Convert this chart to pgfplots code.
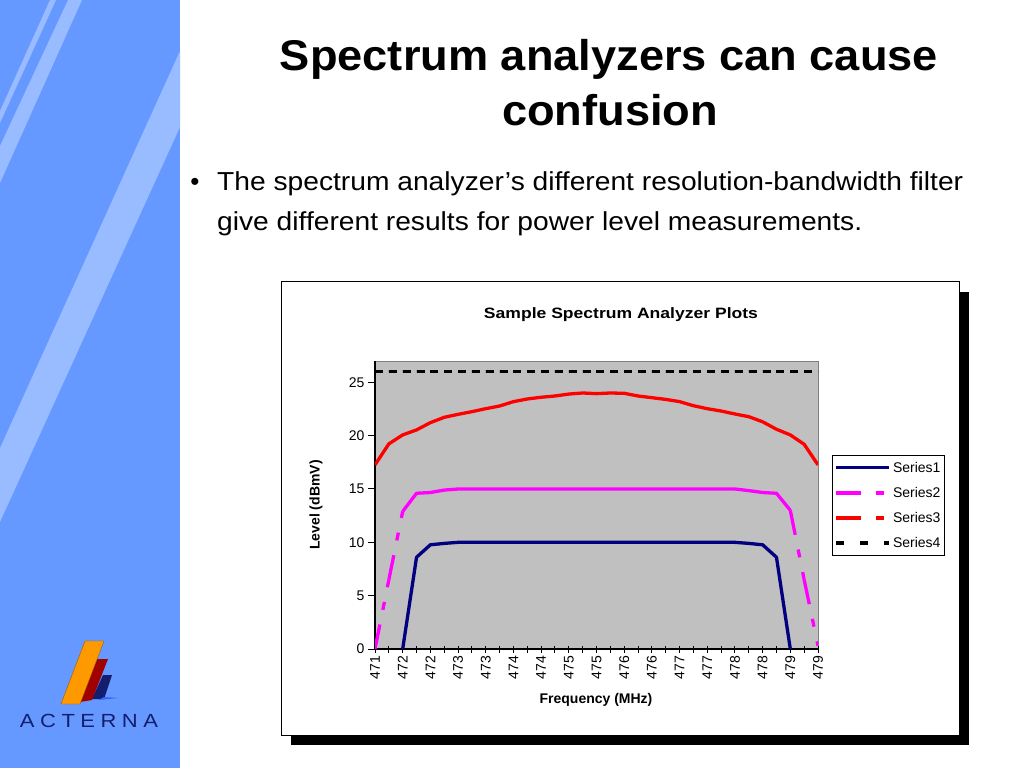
\documentclass[border=0pt]{standalone}
\usepackage{pgfplots}
\pgfplotsset{compat=1.18}
\usepackage{pgfplotstable}
\usepackage{graphicx}
\usepackage{fontspec}
\setmainfont{Liberation Sans}
\newfontfamily\logofont[LetterSpace=25]{Liberation Sans}

\definecolor{panelblue}{RGB}{102,153,255}
\definecolor{stripe}{RGB}{153,187,255}
\definecolor{sone}{RGB}{0,0,128}
\definecolor{stwo}{RGB}{255,0,255}
\definecolor{sthree}{RGB}{255,0,0}
\definecolor{plotgray}{RGB}{192,192,192}
\definecolor{logonavy}{RGB}{20,30,110}
\definecolor{logoorange}{RGB}{255,153,0}
\definecolor{logored}{RGB}{160,0,0}
\definecolor{logoblue}{RGB}{51,102,255}

\newcommand\fs[1]{\fontsize{#1}{#1}\selectfont}

\pgfplotstableread{
i v
2 0
3 8.6
4 9.77
5 9.9
6 10
7 10
8 10
9 10
10 10
11 10
12 10
13 10
14 10
15 10
16 10
17 10
18 10
19 10
20 10
21 10
22 10
23 10
24 10
25 10
26 10
27 9.9
28 9.77
29 8.6
30 0
}\seriesone

\pgfplotstableread{
i v
0 0
1 6.5
2 12.9
3 14.6
4 14.67
5 14.9
6 15
7 15
8 15
9 15
10 15
11 15
12 15
13 15
14 15
15 15
16 15
17 15
18 15
19 15
20 15
21 15
22 15
23 15
24 15
25 15
26 15
27 14.85
28 14.67
29 14.6
30 13.0
31 6.5
32 0.3
}\seriestwo

\pgfplotstableread{
i v
0 17.26
1 19.23
2 20.07
3 20.54
4 21.22
5 21.72
6 22.0
7 22.25
8 22.53
9 22.78
10 23.19
11 23.44
12 23.6
13 23.72
14 23.9
15 24.0
16 23.94
17 24.0
18 23.97
19 23.72
20 23.56
21 23.4
22 23.19
23 22.81
24 22.53
25 22.31
26 22.03
27 21.78
28 21.3
29 20.6
30 20.07
31 19.19
32 17.26
}\seriesthree

\pgfplotstableread{
i v
0 26
1 26
2 26
3 26
4 26
5 26
6 26
7 26
8 26
9 26
10 26
11 26
12 26
13 26
14 26
15 26
16 26
17 26
18 26
19 26
20 26
21 26
22 26
23 26
24 26
25 26
26 26
27 26
28 26
29 26
30 26
31 26
32 26
}\seriesfour

\begin{document}
\begin{tikzpicture}[x=1pt,y=1pt]
\path[use as bounding box] (0,0) rectangle (1024,768);
\fill[white] (0,0) rectangle (1024,768);
% left panel
\fill[panelblue] (0,0) rectangle (180,768);
\fill[stripe] (50,768) -- (56,768) -- (0,645) -- (0,657) -- cycle;
\fill[stripe] (68,768) -- (82,768) -- (0,585) -- (0,622) -- cycle;
\fill[stripe] (180,717) -- (180,641) -- (0,246) -- (0,320) -- cycle;
% logo
\fill[logonavy] (92,69) -- (104,69) -- (112,93) -- (103,93) -- cycle;
\fill[logoblue] (98,68) -- (119,70) -- (104,71) -- cycle;
\fill[logored] (80,66) -- (92,68) -- (108,109) -- (96,109) -- cycle;
\fill[logoorange] (61,64) -- (80,64) -- (104,127) -- (85,127) -- cycle;
\draw[logoorange!60!black, line width=0.4pt] (61,64) -- (80,64) -- (104,127) -- (85,127) -- cycle;
\node[anchor=base, inner sep=0, text=logonavy] at (89,41) {\resizebox{138pt}{\height}{\logofont\fs{19}ACTERNA}};
% title
\node[anchor=base, inner sep=0] at (609,697) {\resizebox{658pt}{\height}{\bfseries\fs{43}Spectrum analyzers can cause}};
\node[anchor=base, inner sep=0] at (610,642) {\resizebox{216pt}{\height}{\bfseries\fs{43}confusion}};
% bullet
\node[anchor=base, inner sep=0] at (195,577) {\fs{26}•};
\node[anchor=base west, inner sep=0] at (217,577) {\resizebox{746pt}{\height}{\fs{26}The spectrum analyzer’s different resolution-bandwidth filter}};
\node[anchor=base west, inner sep=0] at (217,537) {\resizebox{645pt}{\height}{\fs{26}give different results for power level measurements.}};
% chart frame
\fill[black] (291,23) rectangle (969,476);
\filldraw[fill=white, draw=black, line width=1pt] (281,33) rectangle (959,486);

\begin{axis}[
  at={(375pt,119pt)}, anchor=south west,
  scale only axis, width=443pt, height=288pt,
  xmin=0, xmax=32, ymin=0, ymax=27,
  axis background/.style={fill=plotgray, draw=gray, line width=0.8pt},
  axis x line*=bottom, axis y line*=left,
  axis line style={black, line width=1.5pt, -},
  tick pos=left,
  xtick={0,...,32},
  xticklabels={471,,472,,472,,473,,473,,474,,474,,475,,475,,476,,476,,477,,477,,478,,478,,479,,479},
  ytick={0,5,10,15,20,25},
  xtick align=center, ytick align=outside,
  major tick length=7pt,
  tick style={black, line width=1pt},
  x tick label style={rotate=90, anchor=east, font=\fs{14}},
  y tick label style={font=\fs{14}},
  /pgf/number format/assume math mode=true,
  scaled ticks=false,
  title={\resizebox{274pt}{\height}{\bfseries\fs{15}Sample Spectrum Analyzer Plots}},
  title style={at={(axis description cs:0.5553,1.139)}, anchor=center},
  xlabel={\bfseries Frequency (MHz)},
  xlabel style={at={(axis description cs:0.4989,-0.176)}, anchor=center, font=\fs{14}},
  ylabel={\bfseries Level (dBmV)},
  ylabel style={at={(axis description cs:-0.1332,0.5)}, anchor=center, font=\fs{14}},
  legend style={at={(1.0316,0.6736)}, anchor=north west, draw=black, line width=0.8pt,
    fill=white, font=\fs{14}, row sep=9.5pt, inner xsep=2pt, inner ysep=4.5pt,
    nodes={inner sep=2pt}},
  legend cell align=left,
  every axis plot/.append style={line width=3.3pt, line join=round},
]
\addlegendimage{sone, line width=3.3pt, legend image code/.code={\draw (0pt,0pt) -- (53pt,0pt);}}
\addlegendentry{Series1}
\addlegendimage{stwo, line width=3.3pt, dash pattern=on 25pt off 15pt on 8pt off 15pt, legend image code/.code={\draw (0pt,0pt) -- (53pt,0pt);}}
\addlegendentry{Series2}
\addlegendimage{sthree, line width=3.3pt, dash pattern=on 25pt off 15pt on 8pt off 15pt, legend image code/.code={\draw (0pt,0pt) -- (53pt,0pt);}}
\addlegendentry{Series3}
\addlegendimage{black, line width=3.6pt, dash pattern=on 8pt off 16pt, legend image code/.code={\draw (0pt,0pt) -- (53pt,0pt);}}
\addlegendentry{Series4}

\addplot[sone, forget plot] table[x=i,y=v] {\seriesone};
\addplot[stwo, forget plot, dash pattern=on 25pt off 15pt on 8pt off 15pt, restrict x to domain=0:1] table[x=i,y=v] {\seriestwo};
\addplot[stwo, forget plot, dash pattern=on 25pt off 15pt on 8pt off 15pt, restrict x to domain=1:2] table[x=i,y=v] {\seriestwo};
\addplot[stwo, forget plot, restrict x to domain=2:30] table[x=i,y=v] {\seriestwo};
\addplot[stwo, forget plot, dash pattern=on 25pt off 15pt on 8pt off 15pt, restrict x to domain=30:31] table[x=i,y=v] {\seriestwo};
\addplot[stwo, forget plot, dash pattern=on 25pt off 15pt on 8pt off 15pt, restrict x to domain=31:32] table[x=i,y=v] {\seriestwo};
\addplot[sthree, forget plot] table[x=i,y=v] {\seriesthree};
\addplot[black, forget plot, line width=3.6pt, dash pattern=on 8pt off 5.84pt] table[x=i,y=v] {\seriesfour};
\end{axis}
\end{tikzpicture}
\end{document}
